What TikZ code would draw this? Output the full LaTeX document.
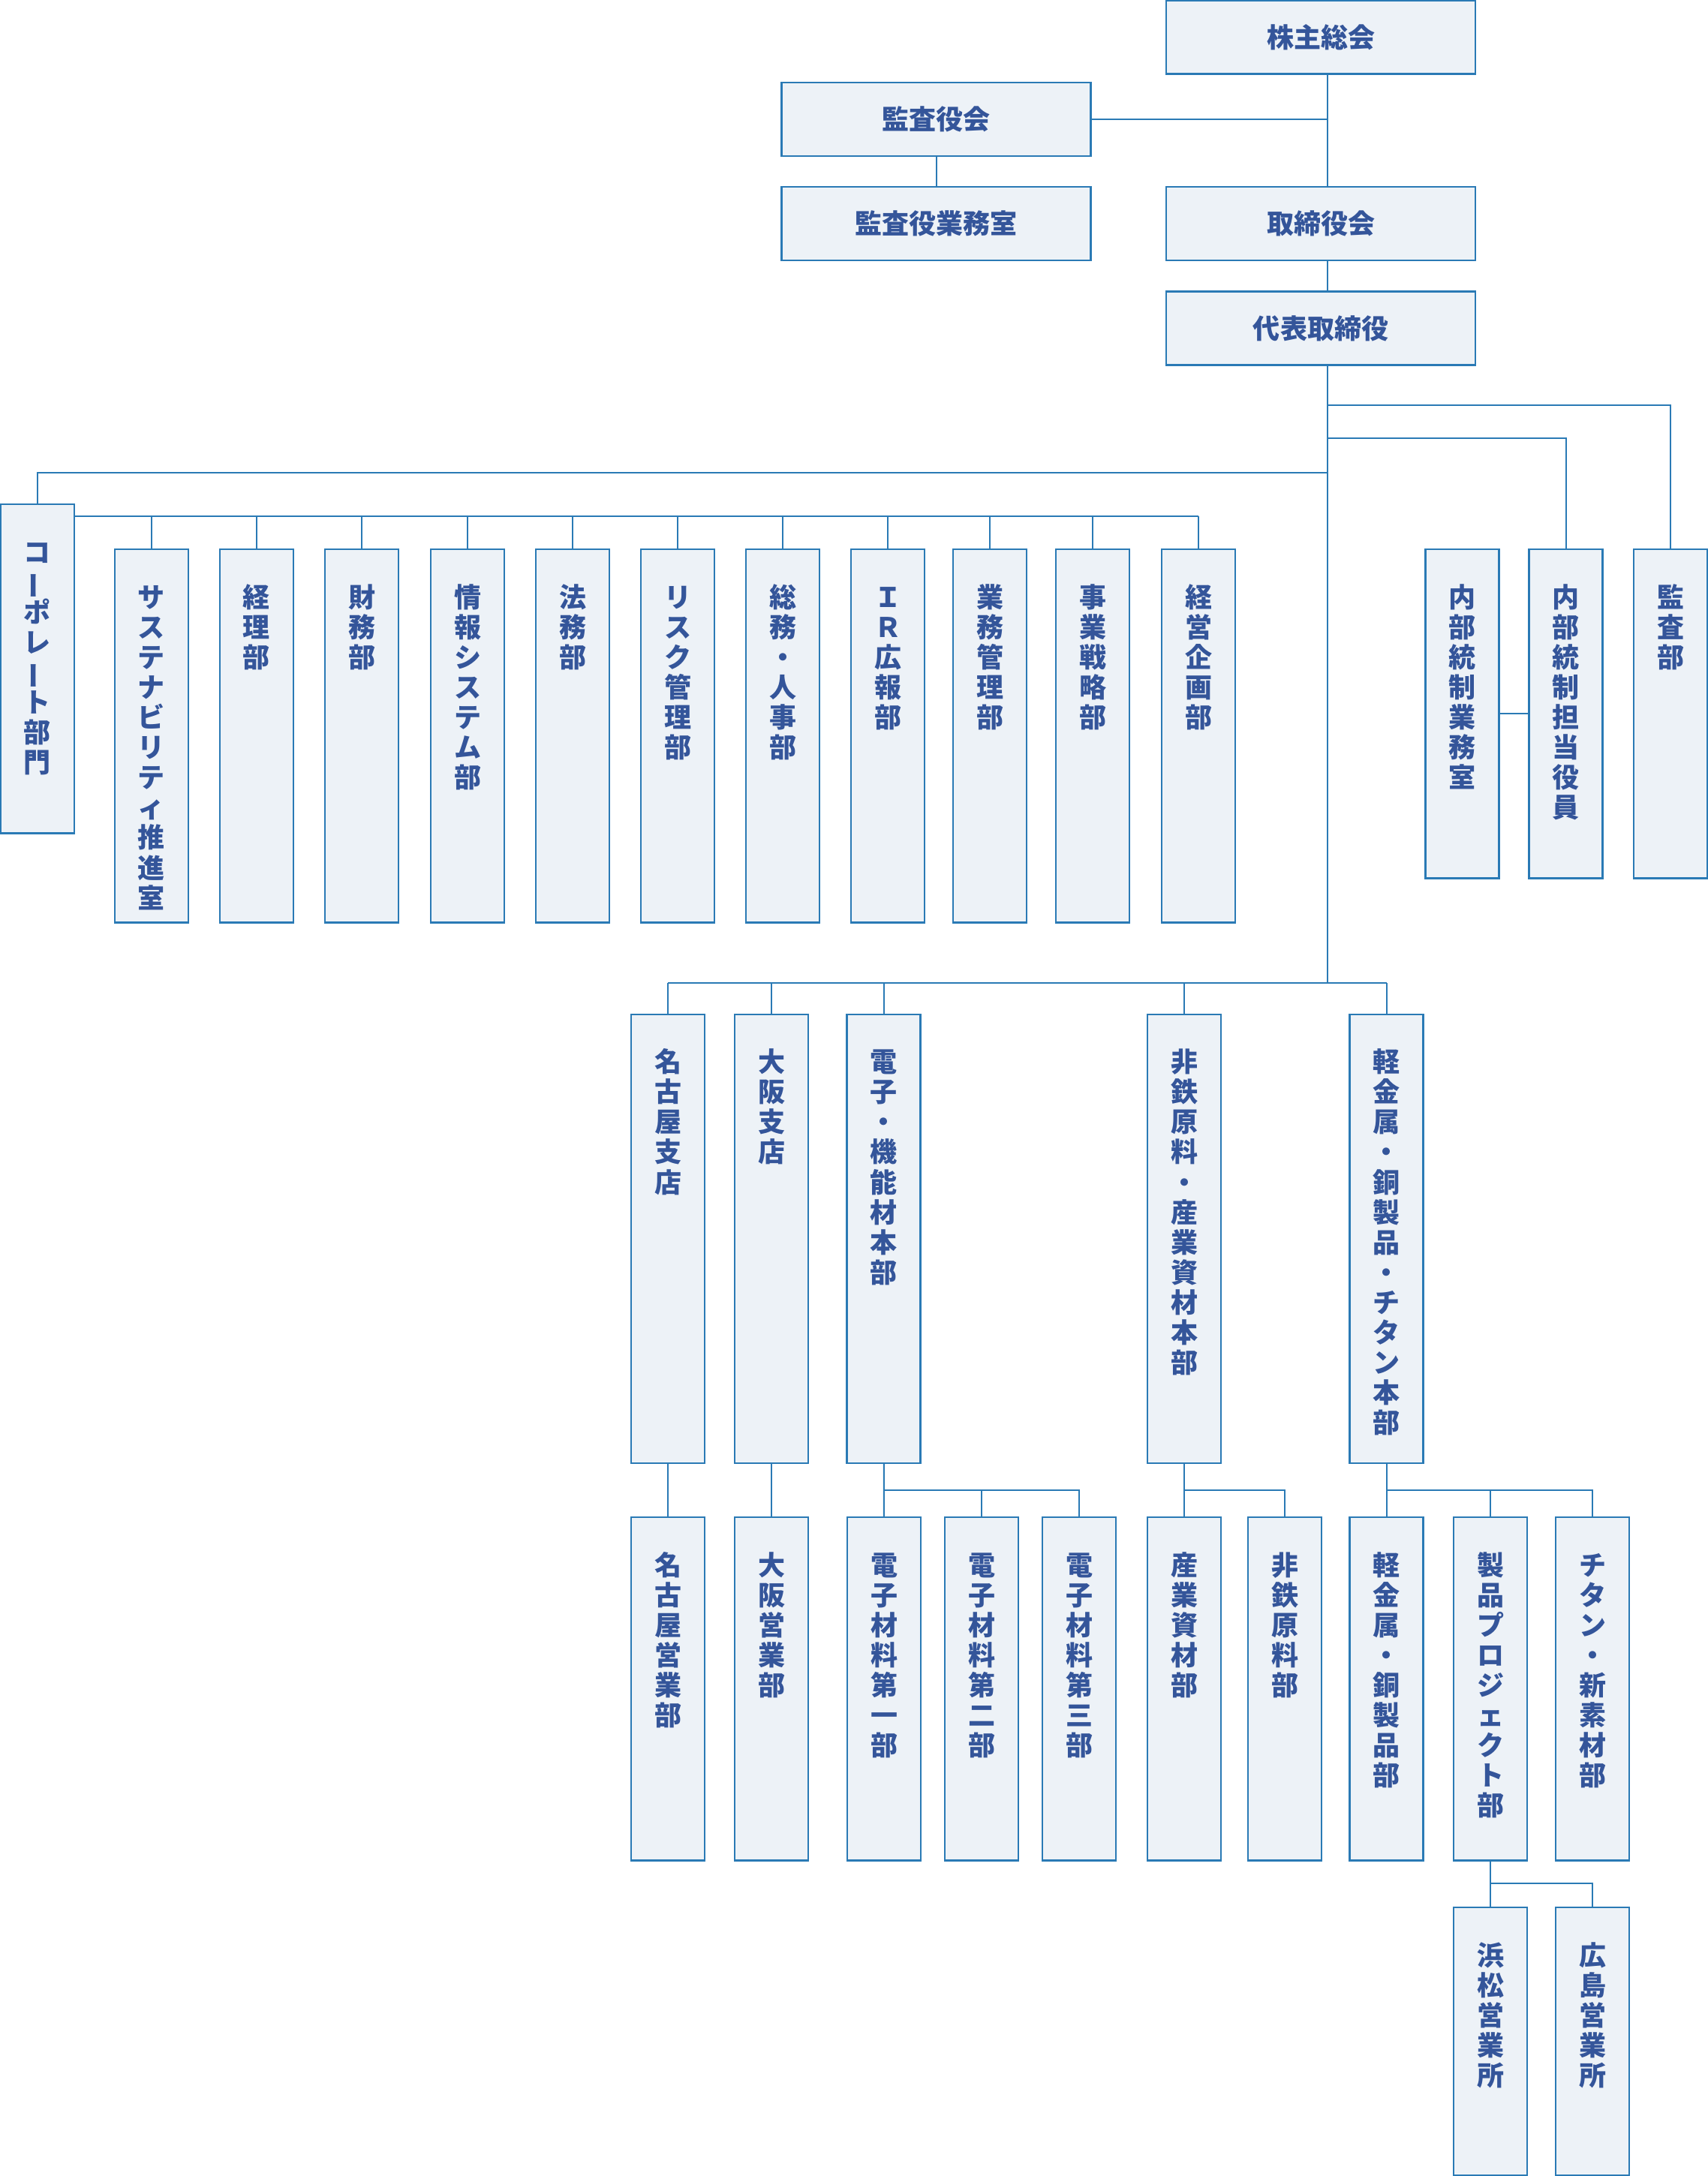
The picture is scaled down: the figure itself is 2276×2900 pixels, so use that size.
\documentclass[tikz,border=0pt]{standalone}
\usepackage{fontspec}
\setmainfont{Noto Sans CJK JP}
\usepackage{graphicx}

\definecolor{linec}{RGB}{42,122,181}
\definecolor{boxc}{RGB}{237,242,247}
\definecolor{textc}{RGB}{52,85,154}

% vertical (tategaki) stack of characters
\newcommand\tate[1]{\vtop{\baselineskip=11.4pt\lineskiplimit=-\maxdimen\lineskip=0pt\expandafter\tateloop#1\relax}}
\def\tateloop#1{\ifx\relax#1\else\tatechar{#1}\expandafter\tateloop\fi}
\def\tatechar#1{\hbox to 1em{\hss\ifx ー#1\rotatebox[origin=c]{90}{ー}\else#1\fi\hss}}

\begin{document}
\begin{tikzpicture}[x=0.01cm,y=-0.01cm,
  every node/.style={text=textc,font=\bfseries\fontsize{10.24pt}{11.4pt}\selectfont},
  wide/.style={draw=linec,fill=boxc,line width=0.65pt,inner sep=0,
    minimum width=4.12cm,minimum height=0.98cm},
  tall/.style={draw=linec,fill=boxc,line width=0.65pt,inner sep=0,anchor=north,
    minimum width=0.98cm,text height=0.77cm,text depth=#1},
  link/.style={draw=linec,line width=0.57pt}]
\useasboundingbox (0,0) rectangle (2276,2900);

% top
\node[wide] (soukai) at (1760,49.5) {株主総会};
\node[wide] (kansayaku) at (1247.5,159) {監査役会};
\node[wide] (kansashitsu) at (1247.5,298) {監査役業務室};
\node[wide] (torishimari) at (1760,298) {取締役会};
\node[wide] (daihyo) at (1760,437.5) {代表取締役};

\coordinate (trunk) at (1769,0);
\coordinate (rbus1) at (1769,540);
\coordinate (rbus2) at (1769,584);
\coordinate (lbus) at (1769,630);
\coordinate (cbus) at (0,688);
\coordinate (dbus) at (1769,1310);
\coordinate (sbus) at (0,1986);
\coordinate (bbus) at (0,2510);

\draw[link] (soukai.south -| trunk) -- (torishimari.north -| trunk);
\draw[link] (kansayaku.east) -- (kansayaku.east -| trunk);
\draw[link] (kansayaku.south) -- (kansashitsu.north);
\draw[link] (torishimari.south -| trunk) -- (daihyo.north -| trunk);
\draw[link] (daihyo.south -| trunk) -- (dbus);

% corporate
\node[tall=3.61cm] (corp) at (50,671) {\tate{コーポレート部門}};
\draw[link] (lbus) -| (corp);
\foreach \n/\x/\lab in {sustain/202/サステナビリティ推進室,keiri/342/経理部,
    zaimu/482/財務部,joho/623/情報システム部,homu/763/法務部,risk/903/リスク管理部,
    somu/1043/総務・人事部,ir/1183/ＩＲ広報部,gyomu/1319/業務管理部,
    senryaku/1456/事業戦略部,kikaku/1597/経営企画部}{
  \node[tall=4.20cm] (\n) at (\x,731) {\tate{\lab}};
  \draw[link] (\n.north) -- (\n.north |- cbus);
}
\draw[link] (corp.east |- cbus) -- (kikaku.north |- cbus);

% internal audit
\node[tall=3.61cm] (naibushitsu) at (1948.5,731) {\tate{内部統制業務室}};
\node[tall=3.61cm] (naibuyakuin) at (2086.5,731) {\tate{内部統制担当役員}};
\node[tall=3.61cm] (kansabu) at (2226,731) {\tate{監査部}};
\draw[link] (rbus1) -| (kansabu);
\draw[link] (rbus2) -| (naibuyakuin);
\draw[link] (naibushitsu) -- (naibuyakuin);

% business divisions
\node[tall=5.21cm] (nagoya) at (890,1350.5) {\tate{名古屋支店}};
\node[tall=5.21cm] (osaka) at (1028,1350.5) {\tate{大阪支店}};
\node[tall=5.21cm] (denshi) at (1177.5,1350.5) {\tate{電子・機能材本部}};
\node[tall=5.21cm] (hitetsu) at (1578,1350.5) {\tate{非鉄原料・産業資材本部}};
\node[tall=5.21cm] (keikinzoku) at (1847.5,1350.5) {\tate{軽金属・銅製品・チタン本部}};
\draw[link] (nagoya.north |- dbus) -- (keikinzoku.north |- dbus);
\foreach \n in {nagoya,osaka,denshi,hitetsu,keikinzoku}
  \draw[link] (\n.north) -- (\n.north |- dbus);

% departments
\node[tall=3.80cm] (nagoyaeigyo) at (890,2021) {\tate{名古屋営業部}};
\node[tall=3.80cm] (osakaeigyo) at (1028,2021) {\tate{大阪営業部}};
\node[tall=3.80cm] (denshi1) at (1178,2021) {\tate{電子材料第一部}};
\node[tall=3.80cm] (denshi2) at (1308,2021) {\tate{電子材料第二部}};
\node[tall=3.80cm] (denshi3) at (1438,2021) {\tate{電子材料第三部}};
\node[tall=3.80cm] (sangyo) at (1578,2021) {\tate{産業資材部}};
\node[tall=3.80cm] (hitetsugen) at (1712,2021) {\tate{非鉄原料部}};
\node[tall=3.80cm] (keikindo) at (1847.5,2021) {\tate{軽金属・銅製品部}};
\node[tall=3.80cm] (seihin) at (1986,2021) {\tate{製品プロジェクト部}};
\node[tall=3.80cm] (titan) at (2122,2021) {\tate{チタン・新素材部}};
\draw[link] (nagoya) -- (nagoyaeigyo);
\draw[link] (osaka) -- (osakaeigyo);
\draw[link] (denshi) -- (denshi1);
\draw[link] (denshi.south |- sbus) -| (denshi2);
\draw[link] (denshi.south |- sbus) -| (denshi3);
\draw[link] (hitetsu) -- (sangyo);
\draw[link] (hitetsu.south |- sbus) -| (hitetsugen);
\draw[link] (keikinzoku) -- (keikindo);
\draw[link] (keikinzoku.south |- sbus) -| (seihin);
\draw[link] (keikinzoku.south |- sbus) -| (titan);

% sales offices
\node[tall=2.80cm] (hamamatsu) at (1986,2541) {\tate{浜松営業所}};
\node[tall=2.80cm] (hiroshima) at (2122,2541) {\tate{広島営業所}};
\draw[link] (seihin) -- (hamamatsu);
\draw[link] (seihin.south |- bbus) -| (hiroshima);
\end{tikzpicture}
\end{document}
